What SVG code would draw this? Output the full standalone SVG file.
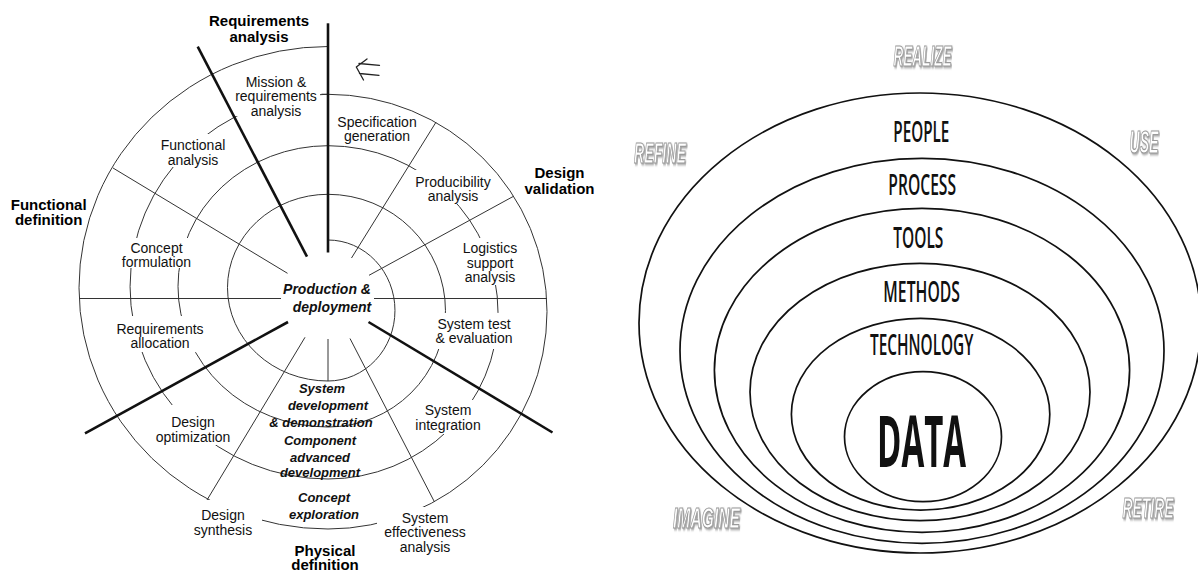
<svg xmlns="http://www.w3.org/2000/svg" width="1198" height="571" viewBox="0 0 1198 571">
<style>
.lbl{font-family:"Liberation Sans",Arial,sans-serif;font-size:14px;fill:#111;text-anchor:middle}
.bld{font-family:"Liberation Sans",Arial,sans-serif;font-size:15px;font-weight:bold;fill:#000;text-anchor:middle}
.phs{font-family:"Liberation Sans",Arial,sans-serif;font-size:13px;font-weight:bold;font-style:italic;fill:#111;text-anchor:middle}
.thin{stroke:#333;stroke-width:1;fill:none}
.thick{stroke:#111;stroke-width:2.6;fill:none}
.ring{stroke:#111;stroke-width:1.7;fill:none}
.cap{font-family:"Open Sans","Liberation Sans",Arial,sans-serif;font-size:28px;font-weight:600;fill:#111;text-anchor:middle}
.ghost{font-family:"Liberation Sans",Arial,sans-serif;font-size:29px;font-weight:bold;font-style:italic;fill:#fff;stroke:#9a9a9a;stroke-width:1.2;text-anchor:middle;filter:url(#shadow)}
</style>
<defs>
<filter id="shadow" x="-10%" y="-30%" width="120%" height="160%">
<feDropShadow dx="2" dy="1.5" stdDeviation="1" flood-color="#777" flood-opacity="0.7"/>
</filter>
<mask id="gaps" maskUnits="userSpaceOnUse" x="0" y="0" width="600" height="571">
<rect x="0" y="0" width="600" height="571" fill="#fff"/>
<rect x="234" y="74" width="86" height="42" fill="#000"/>
<rect x="159" y="134" width="69" height="33" fill="#000"/>
<rect x="119" y="238" width="74" height="30" fill="#000"/>
<rect x="114" y="316" width="92" height="36" fill="#000"/>
<rect x="153" y="405" width="80" height="40" fill="#000"/>
<rect x="190" y="500" width="72" height="40" fill="#000"/>
<rect x="377" y="507" width="93" height="48" fill="#000"/>
<rect x="412" y="400" width="72" height="34" fill="#000"/>
<rect x="432" y="313" width="84" height="36" fill="#000"/>
<rect x="460" y="238" width="62" height="47" fill="#000"/>
<rect x="413" y="170" width="78" height="34" fill="#000"/>
</mask>
</defs>
<rect x="0" y="0" width="1198" height="571" fill="#fff"/>

<!-- LEFT: spiral diagram -->
<g id="connectors">
<path class="thin" mask="url(#gaps)" d="M328,46.5 A249,241.25 0 0 0 328,529 A219,217.35 0 0 0 328,94.3 L321.5,94.2 M328,94.3 A198,192.35 0 0 0 328,479 A170,166.65 0 0 0 328,145.7 A150,140.65 0 0 0 328,427 A117.5,116.35 0 0 0 328,194.3 A100.5,93.35 0 0 0 328,381 A67,70.5 0 0 0 328,240"/>
<line class="thin" x1="374" y1="298.5" x2="547" y2="298.5"/>
<line class="thin" x1="369" y1="275.3" x2="513.5" y2="196.3"/>
<line class="thin" x1="351.5" y1="258" x2="436" y2="122.2"/>
<line class="thin" x1="287.5" y1="273.3" x2="113" y2="168"/>
<line class="thin" x1="281" y1="298.5" x2="79" y2="298.5"/>
<line class="thin" x1="305" y1="337.3" x2="207" y2="500"/>
<line class="thin" x1="328" y1="339" x2="328" y2="381"/>
<line class="thin" x1="350" y1="338.5" x2="434.5" y2="502"/>
<line class="thick" x1="328" y1="23.3" x2="328" y2="252.5"/>
<line class="thick" x1="197.7" y1="46.7" x2="307" y2="256.7"/>
<line class="thick" x1="288" y1="322" x2="85" y2="433.3"/>
<line class="thick" x1="368.5" y1="322" x2="552.5" y2="432.5"/>
<path d="M367,59 L356.3,67 L363.5,80 M359,63.5 L379.5,65.3 M359.5,73.5 L379,75.3" fill="none" stroke="#222" stroke-width="1.3" stroke-linecap="round" stroke-linejoin="round"/>
</g>

<g id="requirements-analysis"><text class="bld" x="259" y="26">Requirements</text><text class="bld" x="259" y="41.5">analysis</text></g>
<g id="design-validation"><text class="bld" x="559.5" y="178">Design</text><text class="bld" x="559.5" y="193.5">validation</text></g>
<g id="functional-definition"><text class="bld" x="48.7" y="209.5">Functional</text><text class="bld" x="48.7" y="224.5">definition</text></g>
<g id="physical-definition"><text class="bld" x="325" y="555.5">Physical</text><text class="bld" x="325" y="570.3">definition</text></g>

<g id="mission"><text class="lbl" x="276" y="86.5">Mission &amp;</text><text class="lbl" x="276" y="101">requirements</text><text class="lbl" x="276" y="115.5">analysis</text></g>
<g id="specification"><text class="lbl" x="377" y="126.5">Specification</text><text class="lbl" x="377" y="141">generation</text></g>
<g id="functional-analysis"><text class="lbl" x="193" y="150">Functional</text><text class="lbl" x="193" y="164.5">analysis</text></g>
<g id="producibility"><text class="lbl" x="453" y="186.5">Producibility</text><text class="lbl" x="453" y="201">analysis</text></g>
<g id="concept-formulation"><text class="lbl" x="156.5" y="253">Concept</text><text class="lbl" x="156.5" y="267">formulation</text></g>
<g id="logistics"><text class="lbl" x="490" y="253">Logistics</text><text class="lbl" x="490" y="267.5">support</text><text class="lbl" x="490" y="282">analysis</text></g>
<g id="requirements-allocation"><text class="lbl" x="160" y="334">Requirements</text><text class="lbl" x="160" y="348">allocation</text></g>
<g id="system-test"><text class="lbl" x="474" y="329">System test</text><text class="lbl" x="474" y="343">&amp; evaluation</text></g>
<g id="design-optimization"><text class="lbl" x="193" y="427">Design</text><text class="lbl" x="193" y="441.5">optimization</text></g>
<g id="system-integration"><text class="lbl" x="448" y="415">System</text><text class="lbl" x="448" y="430">integration</text></g>
<g id="design-synthesis"><text class="lbl" x="223" y="520">Design</text><text class="lbl" x="223" y="534.5">synthesis</text></g>
<g id="system-effectiveness"><text class="lbl" x="425" y="523">System</text><text class="lbl" x="425" y="537.2">effectiveness</text><text class="lbl" x="425" y="551.5">analysis</text></g>

<g id="production-deployment"><text class="phs" style="font-size:14px" x="327" y="294">Production &amp;</text><text class="phs" style="font-size:14px" x="332" y="312">deployment</text></g>
<g id="system-development"><text class="phs" x="322" y="393">System</text><text class="phs" x="328" y="409.5">development</text><text class="phs" x="321" y="426.5">&amp; demonstration</text></g>
<g id="component-development"><text class="phs" x="320" y="445">Component</text><text class="phs" x="320" y="461.5">advanced</text><text class="phs" x="320" y="477">development</text></g>
<g id="concept-exploration"><text class="phs" x="324" y="502">Concept</text><text class="phs" x="324" y="519">exploration</text></g>

<!-- RIGHT: nested rings -->
<g id="ring-people"><ellipse class="ring" cx="920" cy="323" rx="281" ry="230"/><text class="cap" x="921.3" y="141.7" textLength="56" lengthAdjust="spacingAndGlyphs">PEOPLE</text></g>
<g id="ring-process"><ellipse class="ring" cx="922" cy="350.8" rx="242" ry="192.5"/><text class="cap" x="922.2" y="195" textLength="67.7" lengthAdjust="spacingAndGlyphs">PROCESS</text></g>
<g id="ring-tools"><ellipse class="ring" cx="922" cy="370.3" rx="207.6" ry="162"/><text class="cap" x="918.3" y="248.3" textLength="50" lengthAdjust="spacingAndGlyphs">TOOLS</text></g>
<g id="ring-methods"><ellipse class="ring" cx="920" cy="392" rx="170" ry="128.7"/><text class="cap" x="921.7" y="301.7" textLength="76.7" lengthAdjust="spacingAndGlyphs">METHODS</text></g>
<g id="ring-technology"><ellipse class="ring" cx="920.6" cy="414.2" rx="129.2" ry="95.85"/><text class="cap" x="921.7" y="355" textLength="103.3" lengthAdjust="spacingAndGlyphs">TECHNOLOGY</text></g>
<g id="ring-data"><ellipse class="ring" cx="923" cy="436.7" rx="78.5" ry="65"/><text class="cap" style="font-size:72px;font-weight:bold" x="921.5" y="467" textLength="89" lengthAdjust="spacingAndGlyphs">DATA</text></g>

<g id="stage-realize"><text class="ghost" transform="translate(922.5,65.5) scale(0.47,1)" x="0" y="0" textLength="123.4" lengthAdjust="spacingAndGlyphs">REALIZE</text></g>
<g id="stage-refine"><text class="ghost" transform="translate(660,162.5) scale(0.49,1)" x="0" y="0" textLength="106.1" lengthAdjust="spacingAndGlyphs">REFINE</text></g>
<g id="stage-use"><text class="ghost" style="font-size:32px" transform="translate(1144,152.5) scale(0.44,1)" x="0" y="0" textLength="65.9" lengthAdjust="spacingAndGlyphs">USE</text></g>
<g id="stage-imagine"><text class="ghost" transform="translate(706.5,527.5) scale(0.54,1)" x="0" y="0" textLength="124.1" lengthAdjust="spacingAndGlyphs">IMAGINE</text></g>
<g id="stage-retire"><text class="ghost" transform="translate(1148,517.5) scale(0.48,1)" x="0" y="0" textLength="106.3" lengthAdjust="spacingAndGlyphs">RETIRE</text></g>
</svg>
